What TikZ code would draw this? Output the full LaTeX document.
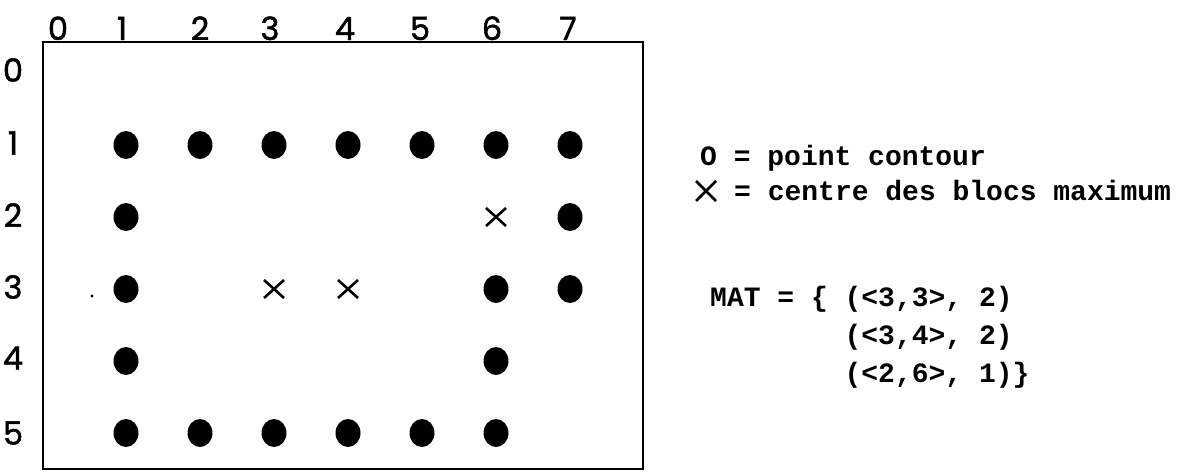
\documentclass[tikz,border=0pt]{standalone}
\usepackage{fontspec}
\setmonofont{Liberation Mono}
\newfontfamily\digitfont[FakeBold=1.5]{Poppins}
\usetikzlibrary{calc}

\begin{document}
\begin{tikzpicture}[x=1pt, y=-1pt,
  contour/.style={fill=black},
  bloc/.style={line width=2.6pt},
  idx/.style={font=\digitfont\fontsize{32}{34}\selectfont, inner sep=0pt},
  legend/.style={font=\ttfamily\bfseries\fontsize{28}{30}\selectfont, anchor=base west, inner sep=0pt}]

\useasboundingbox (0,0) rectangle (1180,472);

% Frame of the image
\draw[line width=2pt] (43,42) rectangle (643,469);

% Column indices, sitting on the top edge
\foreach \c/\x in {0/58, 1/122, 2/200, 3/270, 4/345, 5/420, 6/492, 7/568}
  \node[idx, anchor=base] (col-\c) at (\x,40) {\c};

% Row indices on the left
\foreach \r/\y in {0/70, 1/143, 2/215, 3/287, 4/358, 5/433}
  \node[idx] (row-\r) at (13,\y) {\r};

% Grid positions: column c at x = 52+74c, row r at y = 73+72r
\foreach \r in {1,...,5}
  \foreach \c in {1,...,7}
    \coordinate (g-\r-\c) at ({52+74*\c},{73+72*\r});

% Contour points
\foreach \p in {1-1,1-2,1-3,1-4,1-5,1-6,1-7,
                2-1,2-7,
                3-1,3-6,3-7,
                4-1,4-6,
                5-1,5-2,5-3,5-4,5-5,5-6}
  \fill[contour] (g-\p) ellipse [x radius=12.5pt, y radius=14pt];

% Centres of the maximum blocks
\foreach \p in {2-6,3-3,3-4}
  \draw[bloc] ($(g-\p)+(-10,-9)$) -- ($(g-\p)+(10,9)$)
              ($(g-\p)+(-10,9)$) -- ($(g-\p)+(10,-9)$);

% stray speck left of row 3
\fill (92,296) circle (1.6pt);

% Legend
\node[legend] (leg-o) at (700,165) {O = point contour};
\coordinate (leg-x) at (706,191);
\draw[bloc] ($(leg-x)+(-10,-10)$) -- ($(leg-x)+(10,10)$)
            ($(leg-x)+(-10,10)$) -- ($(leg-x)+(10,-10)$);
\node[legend] (leg-c) at (734,200) {= centre des blocs maximum};

% List of the maximum blocks
\node[legend] (mat-1) at (710,306) {MAT = \{ (<3,3>, 2)};
\node[legend] (mat-2) at (710,344) {\phantom{MAT = \{ }(<3,4>, 2)};
\node[legend] (mat-3) at (710,382) {\phantom{MAT = \{ }(<2,6>, 1)\}};

\end{tikzpicture}
\end{document}
